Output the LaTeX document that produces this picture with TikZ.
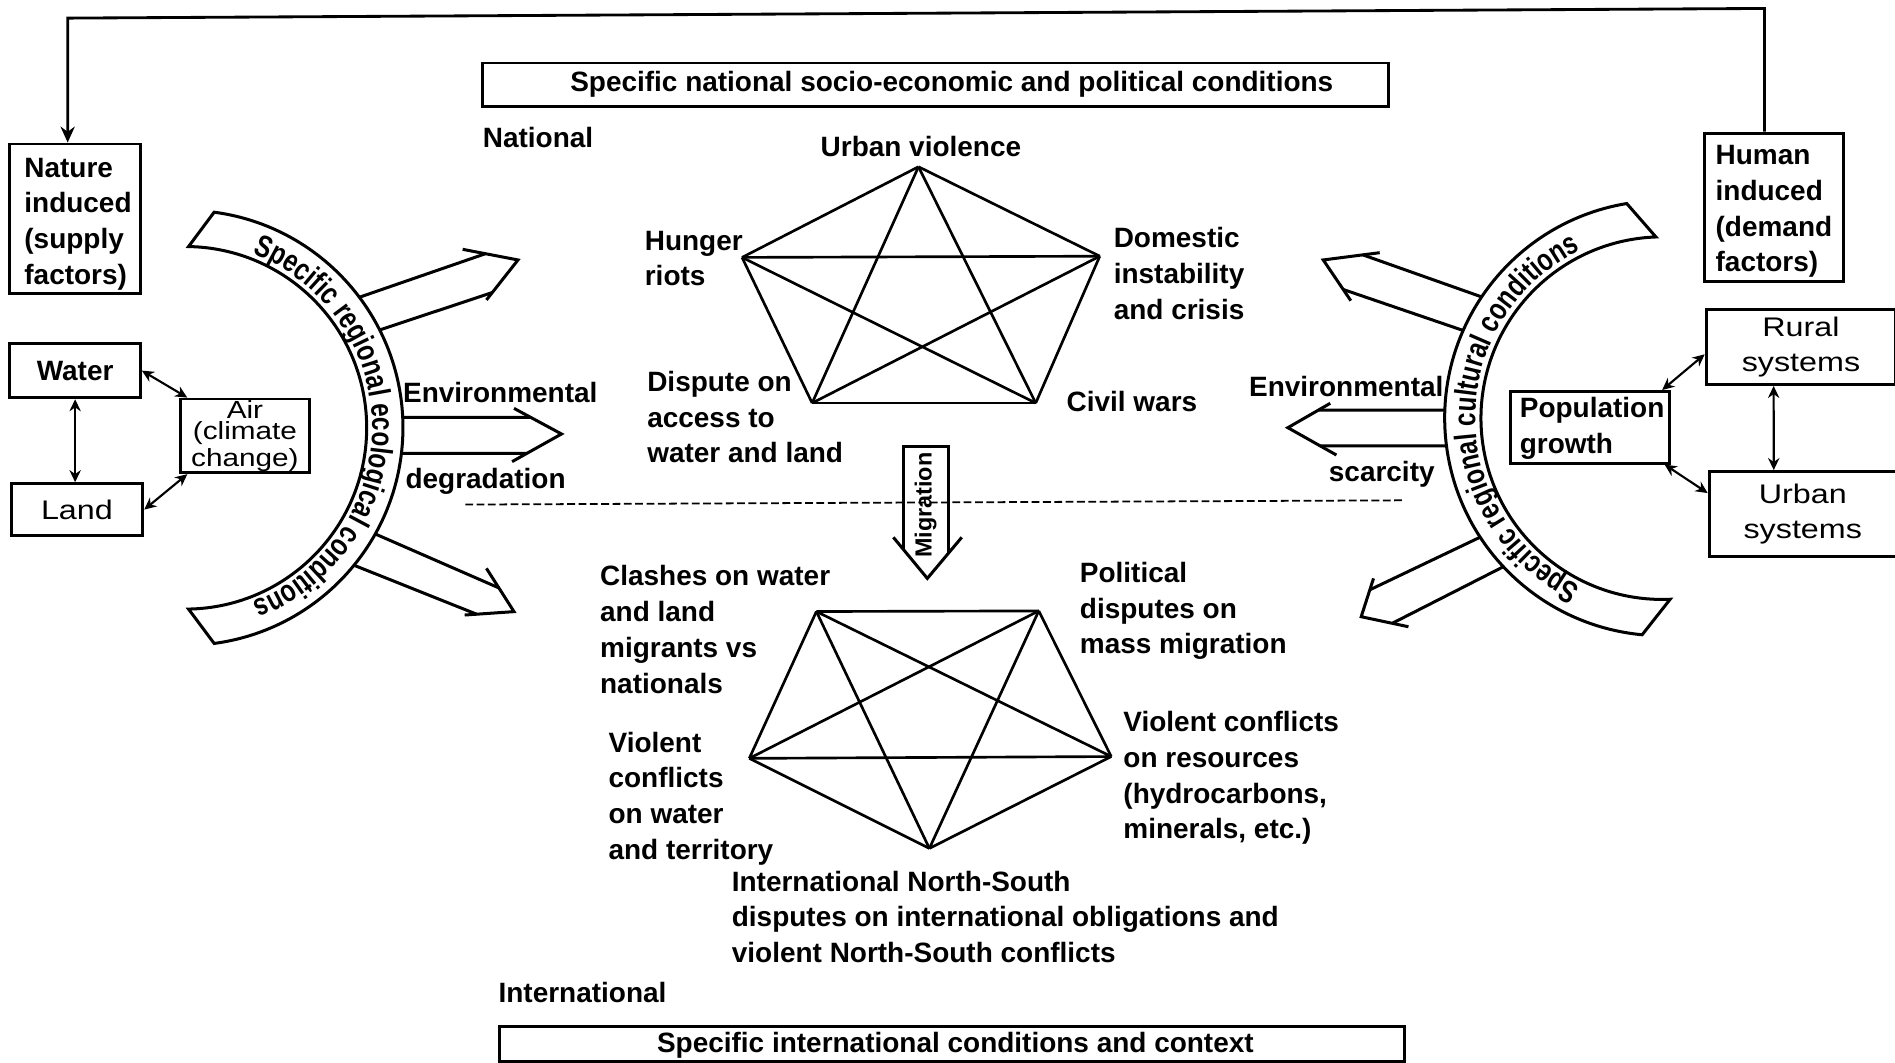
\documentclass[tikz,border=0pt]{standalone}
\usepackage{fontspec}
\setmainfont{Liberation Sans}
\newfontfamily\widefam[FakeStretch=1.2]{Liberation Sans}
\newfontfamily\ringfam[FakeStretch=0.78]{Liberation Sans}
\usetikzlibrary{arrows.meta,calc,decorations.text}
\newcommand\ringtxt{\ringfam\bfseries\fontsize{8.8}{9}\selectfont}
\newcommand\bigarr[7]{%
  \draw[big] ($(#1)!-0.08!(#2)$) -- (intersection of #1--#2 and #5--#6);
  \draw[big] ($(#3)!-0.08!(#4)$) -- (intersection of #3--#4 and #6--#7);
  \draw[big] (#5) -- (#6) -- (#7);}
\begin{document}
\begin{tikzpicture}[x=0.12mm,y=0.12mm,
  bt/.style={font=\bfseries\fontsize{7.9}{10.1}\selectfont, inner sep=0pt, align=left},
  rt/.style={font=\widefam\fontsize{7.6}{9.9}\selectfont, align=center},
  box/.style={draw, line width=0.8pt, inner sep=0pt, anchor=north west},
  pent/.style={line width=0.75pt},
  big/.style={line width=0.85pt},
  dbl/.style={line width=0.6pt, {Stealth[length=3.4pt,width=3.2pt]}-{Stealth[length=3.4pt,width=3.2pt]}}]
\useasboundingbox (0,0) rectangle (1568,-879);

% ---------- boxes ----------
\node[box, minimum width=12.96mm, minimum height=14.88mm] (nature) at (7,-118) {};
\node[box, minimum width=12.96mm, minimum height=5.4mm, font=\bfseries\fontsize{7.9}{10.1}\selectfont] (water) at (7,-283) {Water};
\node[box, minimum width=13.08mm, minimum height=5.16mm, rt] (land) at (8,-399) {Land};
\node[box, minimum width=12.84mm, minimum height=7.32mm, rt, font=\widefam\fontsize{7}{6}\selectfont] (air) at (148,-329) {Air\\(climate\\change)};
\node[box, minimum width=13.86mm, minimum height=14.72mm] (human) at (1409,-109) {};
\node[box, minimum width=18.84mm, minimum height=7.44mm, rt] (rural) at (1410.5,-255) {Rural\\systems};
\node[box, minimum width=18.6mm, minimum height=8.4mm, rt] (urban) at (1413,-389) {Urban\\systems};
\node[box, minimum width=15.72mm, minimum height=7.12mm] (pop) at (1249,-322.7) {};
\node[box, minimum width=90mm, minimum height=4.32mm] (topbox) at (398,-51) {};
\node[box, minimum width=89.88mm, minimum height=3.48mm] (botbox) at (412,-848) {};

% ---------- top connector ----------
\coordinate (topL) at (56,-15);
\coordinate (topR) at (1460,-7);
\draw[line width=0.8pt, -{Stealth[length=4.5pt,width=4pt]}] (topR |- human.north) -- (topR) -- (topL) -- (topL |- nature.north);

% ---------- small double arrows ----------
\draw[dbl] (water.south) -- (water.south |- land.north);
\draw[dbl] (water.east) -- ($(air.north west)+(7,0)$);
\draw[dbl] (land.east) -- ($(air.south west)+(7,0)$);
\draw[dbl] ($(pop.north east)+(-7,0)$) -- ($(rural.west)+(0,-6)$);
\draw[dbl] ($(pop.south east)+(-5,0)$) -- ($(urban.north west)+(0,-19)$);
\draw[dbl] ($(rural.south)+(-22.6,0)$) -- ($(urban.north)+(-24,0)$);

% ---------- big hollow arrows ----------
\bigarr{301,-244.7}{400.8,-210.2}{315.7,-272.5}{415.5,-239.4}{382.8,-206.3}{428.6,-215.1}{402.5,-248.2}
\bigarr{322,-345.3}{438.5,-345.3}{322,-375.1}{446.6,-375.1}{425.3,-337.9}{464.6,-359.1}{423.7,-382}
\bigarr{315.7,-444.1}{410.6,-485.5}{299.4,-470.3}{392.6,-507.5}{402.5,-470.3}{425.3,-506.1}{384.5,-508.9}
\bigarr{1221.5,-244.1}{1127.9,-211}{1207.9,-272.5}{1111,-239.4}{1141.6,-209.1}{1094.9,-215.1}{1117.7,-248.8}
\bigarr{1207,-339.3}{1088.8,-339.3}{1207,-369}{1092.3,-369}{1100.7,-333.7}{1065.6,-353.9}{1105.8,-376.5}
\bigarr{1219.9,-446.8}{1133.1,-488.2}{1238.5,-471.7}{1151.8,-515.8}{1136.5,-478.6}{1126.3,-510.3}{1165.4,-518.6}

% ---------- curved bands ----------
\coordinate (c1) at (153.4,-354);
\draw[big, fill=white] ($(c1)+(82.4:21.6mm)$) arc[start angle=82.4, end angle=-82.4, radius=21.6mm]
  -- ($(c1)+(-89:18mm)$) arc[start angle=-89, end angle=89, radius=18mm] -- cycle;
\path[decorate, decoration={text along path, text={|\ringtxt|Specific regional ecological conditions}, text align=center}]
  ($(c1)+(74:18.55mm)$) arc[start angle=74, end angle=-74, radius=18.55mm];

\coordinate (c2) at (1375.4,-346);
\draw[big, fill=white] ($(c2)+(99.4:21.6mm)$) arc[start angle=99.4, end angle=264.7, radius=21.6mm]
  -- ($(c2)+(272.5:18mm)$) arc[start angle=272.5, end angle=92, radius=18mm] -- cycle;
\path[decorate, decoration={text along path, text={|\ringtxt|Specific regional cultural conditions}, text align=center}]
  ($(c2)+(245:18.55mm)$) arc[start angle=245, end angle=115, radius=18.55mm];

% ---------- dashed national/international divider ----------
\coordinate (dL) at (385,-417.5);
\coordinate (dR) at (1160,-414);
\draw[line width=0.5pt, dash pattern=on 2.2pt off 1pt] (dL) -- (dR);

% ---------- migration arrow ----------
\coordinate (mg1) at (747.5,-454.6);
\coordinate (mg2) at (747.5,-369.6);
\coordinate (mg3) at (784.7,-369.6);
\coordinate (mg4) at (784.7,-457.8);
\coordinate (mgp) at (739.2,-444.6);
\coordinate (mgt) at (767.3,-478.6);
\coordinate (mgq) at (795.8,-444.6);
\draw[big] (mg1) -- (mg2) -- (mg3) -- (mg4);
\draw[big] (mgp) -- (mgt) -- (mgq);
\node[font=\bfseries\fontsize{6.6}{7}\selectfont, rotate=90, inner sep=0pt] (migT) at (766,-418) {Migration};

% ---------- national K5 ----------
\coordinate (n1) at (760,-138);
\coordinate (n2) at (614,-213);
\coordinate (n3) at (910,-212);
\coordinate (n4) at (672,-333.5);
\coordinate (n5) at (857,-333.5);
\foreach \a/\b in {1/2,1/3,1/4,1/5,2/3,2/4,2/5,3/4,3/5,4/5}
  \draw[pent] (n\a) -- (n\b);

% ---------- international K5 ----------
\coordinate (m1) at (675.5,-506);
\coordinate (m2) at (859.5,-505.5);
\coordinate (m3) at (620,-627.5);
\coordinate (m4) at (919.5,-626);
\coordinate (m5) at (769,-702);
\foreach \a/\b in {1/2,1/3,1/4,1/5,2/3,2/4,2/5,3/4,3/5,4/5}
  \draw[pent] (m\a) -- (m\b);

% ---------- texts ----------
\node[bt, anchor=north west] (natT) at (19.6,-130) {Nature\\induced\\(supply\\factors)};
\node[bt, anchor=north west] (humT) at (1419,-119.8) {Human\\induced\\(demand\\factors)};
\node[bt, anchor=north west] (popT) at (1257,-328) {Population\\growth};
\node[bt, anchor=base] (topT) at (787.5,-75.7) {Specific national socio-economic and political conditions};
\node[bt, anchor=base] (botT) at (790.5,-870.7) {Specific international conditions and context};
\node[bt, anchor=base west] (natl) at (399,-122.2) {National};
\node[bt, anchor=base west] (intl) at (412,-829.7) {International};
\node[bt, anchor=base] (uv) at (762,-129.5) {Urban violence};
\node[bt, anchor=north west] (hr) at (533,-190.5) {Hunger\\riots};
\node[bt, anchor=north west] (dom) at (921,-187.5) {Domestic\\instability\\and crisis};
\node[bt, anchor=north west] (disp) at (535,-306.5) {Dispute on\\access to\\water and land};
\node[bt, anchor=base west] (civ) at (882,-340.2) {Civil wars};
\node[bt, anchor=base west] (envL) at (333,-333.2) {Environmental};
\node[bt, anchor=base west] (degr) at (335,-404) {degradation};
\node[bt, anchor=base west] (envR) at (1033,-328.5) {Environmental};
\node[bt, anchor=base west] (scar) at (1099,-398.6) {scarcity};
\node[bt, anchor=north west] (clash) at (496,-467.5) {Clashes on water\\and land\\migrants vs\\nationals};
\node[bt, anchor=north west] (pol) at (893,-464.5) {Political\\disputes on\\mass migration};
\node[bt, anchor=north west] (vw) at (503,-605) {Violent\\conflicts\\on water\\and territory};
\node[bt, anchor=north west] (vr) at (929,-588) {Violent conflicts\\on resources\\(hydrocarbons,\\minerals, etc.)};
\node[bt, anchor=north west] (ns) at (605,-720) {International North-South\\disputes on international obligations and\\violent North-South conflicts};
\end{tikzpicture}
\end{document}
